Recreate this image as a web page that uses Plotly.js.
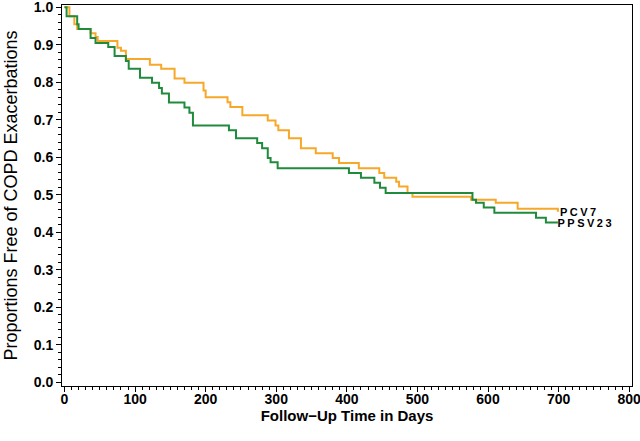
<!DOCTYPE html>
<html>
<head>
<meta charset="utf-8">
<script src="https://cdn.plot.ly/plotly-3.0.1.min.js"></script>
<style>
  html, body { margin: 0; padding: 0; background: #fff; }
  #chart { width: 640px; height: 441px; }
</style>
</head>
<body>
<div id="chart"></div>
<script>
// PCV7 Kaplan-Meier steps (day, proportion free after step)
const pcv7Days = [0, 7, 14, 18, 37, 44, 47, 75, 80, 87, 121, 137, 156, 170, 197, 200, 231, 235, 252, 288, 299, 303, 318, 335, 356, 380, 389, 417, 446, 453, 470, 474, 486, 493, 576, 611, 642, 699];
const pcv7Surv = [1.0, 0.976, 0.955, 0.942, 0.931, 0.921, 0.910, 0.892, 0.884, 0.862, 0.847, 0.836, 0.810, 0.799, 0.778, 0.760, 0.747, 0.734, 0.712, 0.698, 0.685, 0.672, 0.651, 0.624, 0.611, 0.598, 0.585, 0.571, 0.558, 0.545, 0.535, 0.522, 0.505, 0.495, 0.487, 0.479, 0.463, 0.455];

// PPSV23 Kaplan-Meier steps
const ppsvDays = [0, 3, 18, 20, 37, 44, 62, 71, 87, 91, 107, 124, 134, 138, 148, 170, 177, 182, 233, 243, 273, 280, 288, 292, 302, 403, 420, 439, 447, 455, 578, 583, 594, 609, 668, 682, 699];
const ppsvSurv = [1.0, 0.976, 0.955, 0.942, 0.918, 0.905, 0.894, 0.870, 0.857, 0.836, 0.812, 0.799, 0.785, 0.770, 0.746, 0.733, 0.719, 0.685, 0.672, 0.651, 0.638, 0.624, 0.598, 0.587, 0.571, 0.558, 0.545, 0.532, 0.519, 0.505, 0.487, 0.479, 0.466, 0.452, 0.439, 0.426, 0.426];

const seriesNames = ["PCV7", "PPSV23"];
const xTickVals = [0, 100, 200, 300, 400, 500, 600, 700, 800];
const yTickVals = [0.0, 0.1, 0.2, 0.3, 0.4, 0.5, 0.6, 0.7, 0.8, 0.9, 1.0];
const yTickText = ["0.0", "0.1", "0.2", "0.3", "0.4", "0.5", "0.6", "0.7", "0.8", "0.9", "1.0"];

const orange = "#F8A829";
const green = "#218B3D";

const traces = [
  { x: pcv7Days, y: pcv7Surv, mode: "lines", line: { shape: "hv", color: orange, width: 2 }, name: seriesNames[0], hoverinfo: "skip" },
  { x: ppsvDays, y: ppsvSurv, mode: "lines", line: { shape: "hv", color: green, width: 2 }, name: seriesNames[1], hoverinfo: "skip" }
];

const FAM = "Liberation Sans, Arial, sans-serif";
const tickFont = { family: FAM, size: 14, color: "#000", weight: "bold" };

const layout = {
  width: 640, height: 441,
  margin: { l: 62, r: 8, t: 5, b: 55 },
  paper_bgcolor: "#fff", plot_bgcolor: "#fff",
  showlegend: false,
  xaxis: {
    range: [-3.5, 804],
    tickvals: xTickVals,
    ticks: "outside", ticklen: 5, tickwidth: 1, tickcolor: "#000",
    minor: { dtick: 10, tick0: 0, ticks: "outside", ticklen: 3, tickwidth: 1, tickcolor: "#000" },
    showgrid: false, zeroline: false,
    showline: true, linecolor: "#000", linewidth: 1, mirror: true,
    tickfont: tickFont,
    ticklabeloverflow: "allow",
    ticklabelstandoff: -5,
    automargin: false,
    title: { text: "Follow\u2212Up Time in Days", font: { family: FAM, size: 15, color: "#000", weight: "bold" }, standoff: 0 }
  },
  yaxis: {
    range: [-0.01, 1.006],
    tickvals: yTickVals, ticktext: yTickText,
    ticks: "outside", ticklen: 5, tickwidth: 1, tickcolor: "#000",
    minor: { dtick: 0.02, tick0: 0, ticks: "outside", ticklen: 3, tickwidth: 1, tickcolor: "#000" },
    showgrid: false, zeroline: false,
    showline: true, linecolor: "#000", linewidth: 1, mirror: true,
    tickfont: tickFont,
    ticklabeloverflow: "allow",
    automargin: false,
    title: { text: "Proportions Free of COPD Exacerbations", font: { family: FAM, size: 18, color: "#000" }, standoff: 11 }
  },
  annotations: [
    { x: pcv7Days[pcv7Days.length - 1], y: pcv7Surv[pcv7Surv.length - 1], xref: "x", yref: "y", text: seriesNames[0], showarrow: false, xanchor: "left", yanchor: "middle", xshift: 5, font: { family: FAM, size: 11, color: "#000", weight: "bold" } },
    { x: ppsvDays[ppsvDays.length - 1], y: ppsvSurv[ppsvSurv.length - 1], xref: "x", yref: "y", text: seriesNames[1], showarrow: false, xanchor: "left", yanchor: "middle", xshift: 5, font: { family: FAM, size: 11, color: "#000", weight: "bold" } }
  ]
};

Plotly.newPlot("chart", traces, layout, { staticPlot: true, displayModeBar: false }).then(function () {
  document.querySelectorAll(".annotation-text").forEach(function (el) { el.style.letterSpacing = "2.5px"; });
});
</script>
</body>
</html>
